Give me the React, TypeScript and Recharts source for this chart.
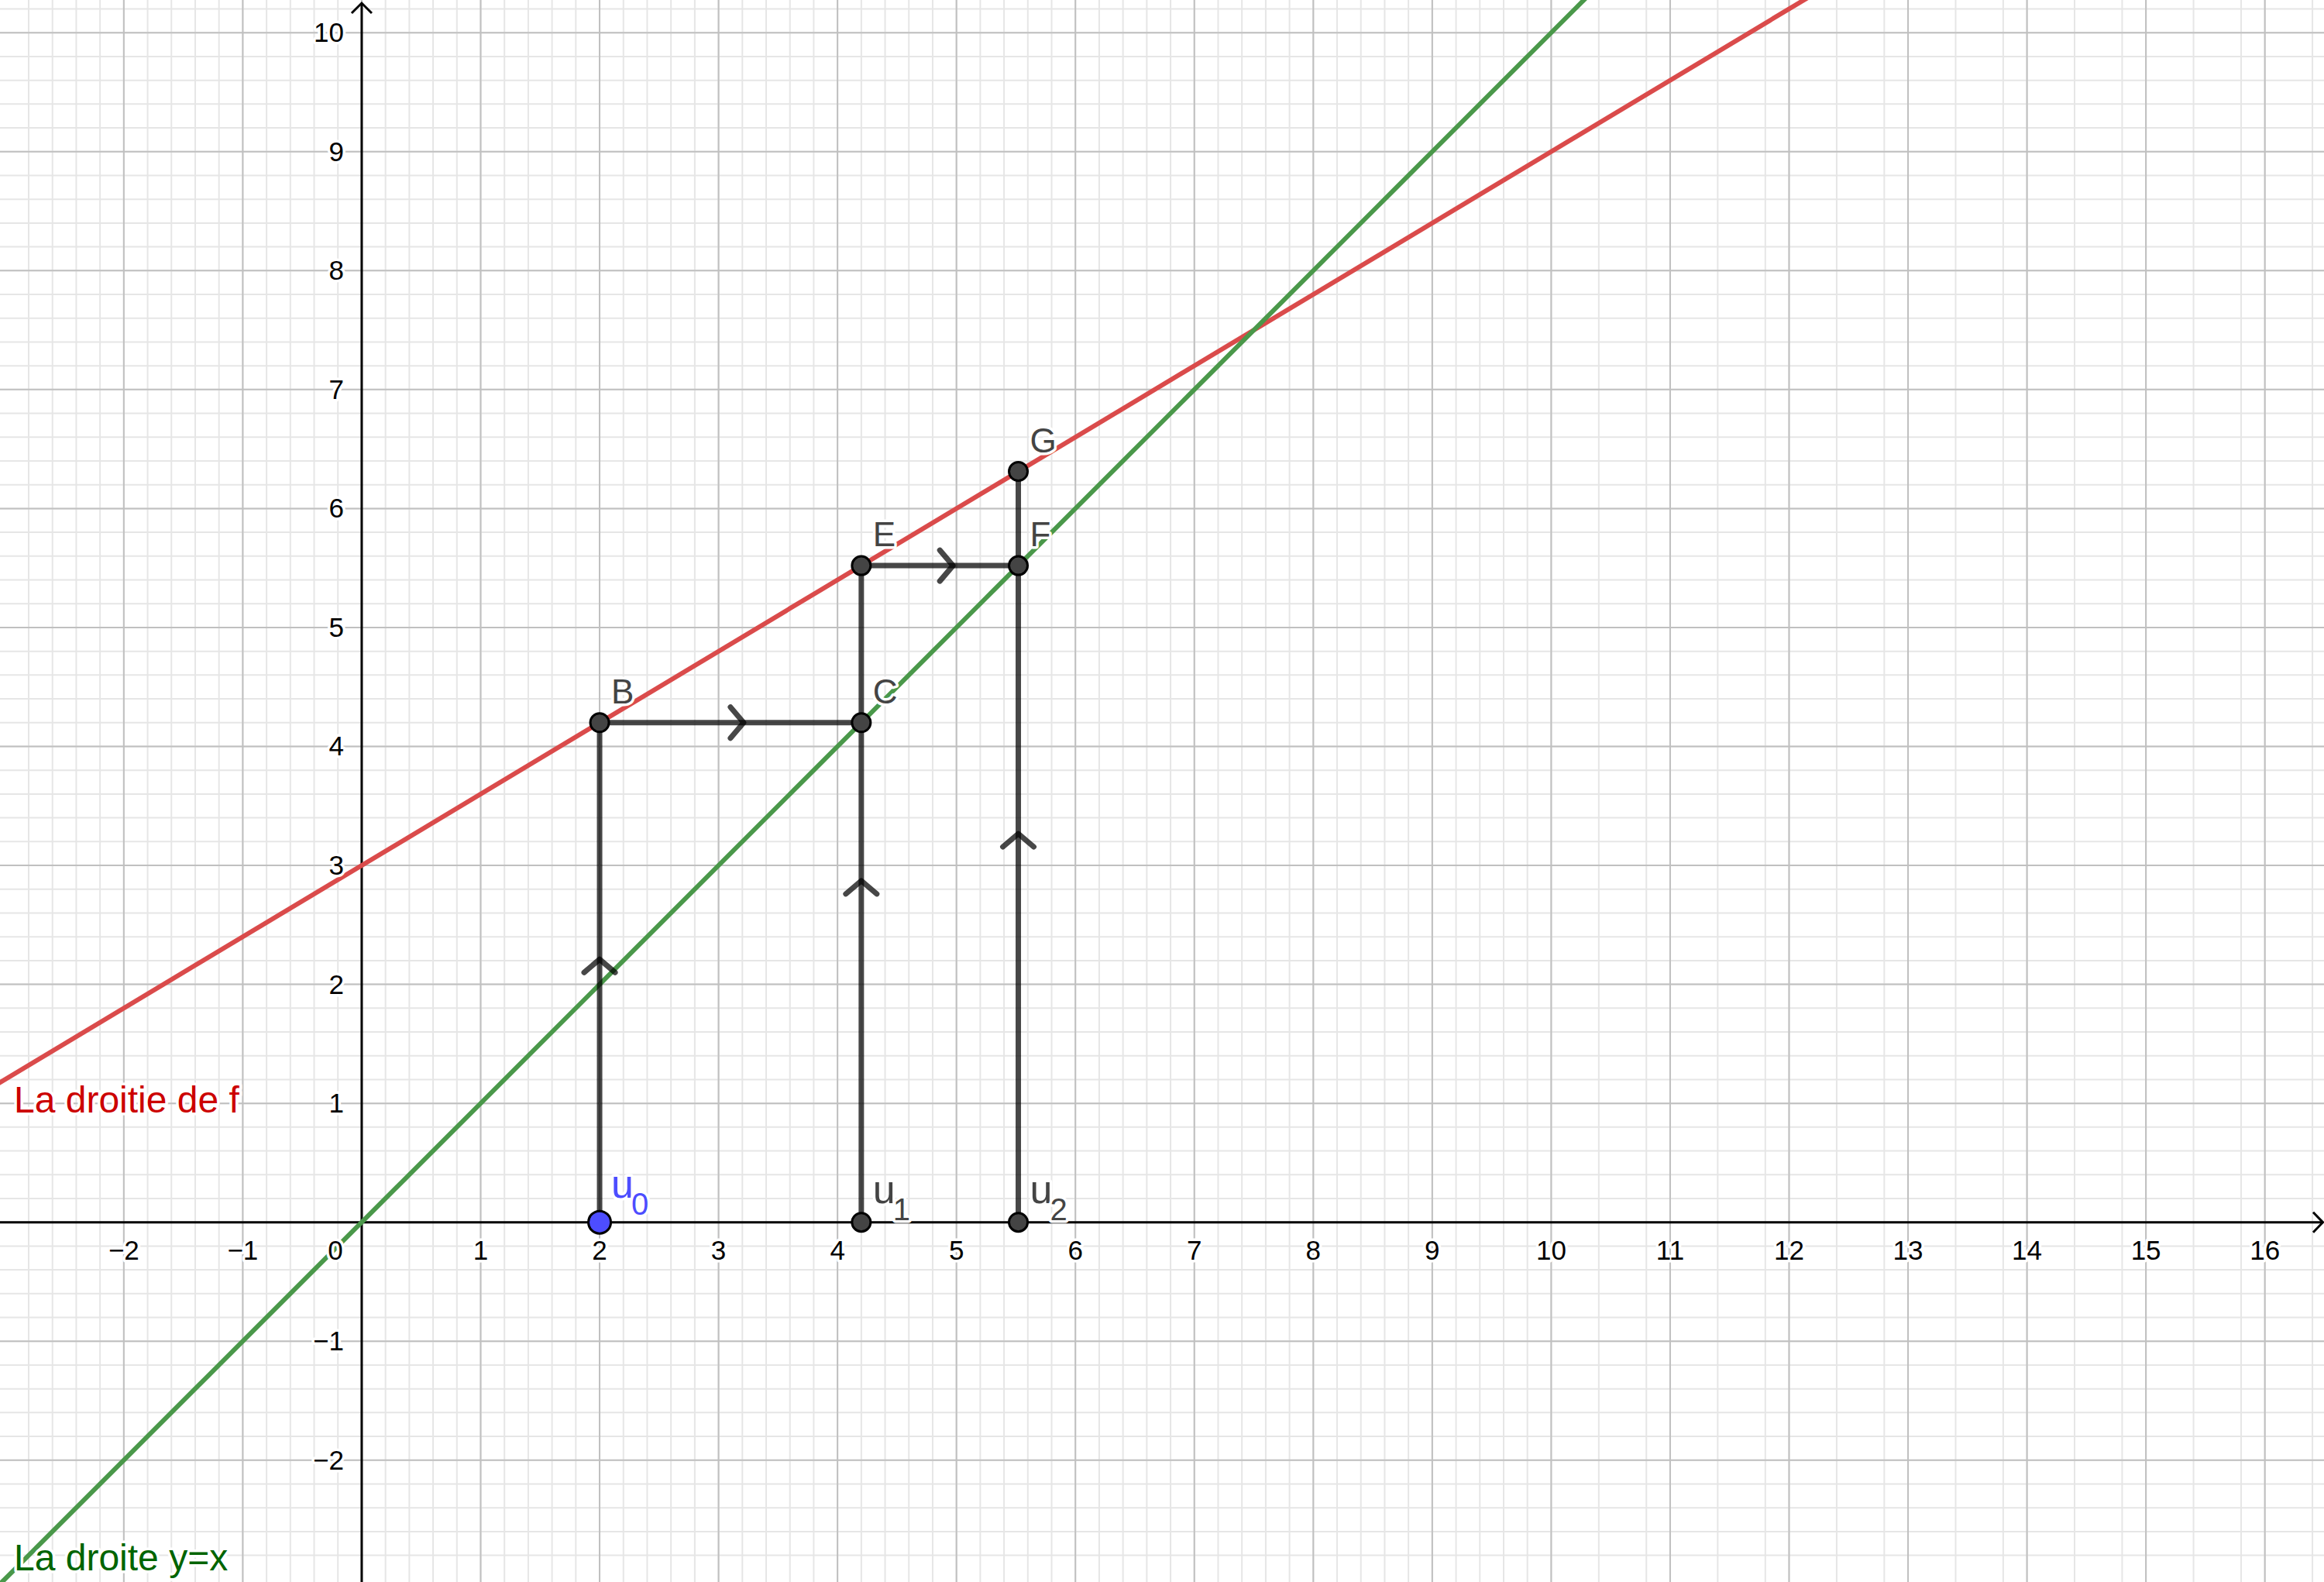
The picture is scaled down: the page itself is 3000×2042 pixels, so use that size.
import React from "react";
import {
  ComposedChart,
  XAxis,
  YAxis,
  CartesianGrid,
  ReferenceLine,
  Line,
  Scatter,
} from "recharts";

const W = 3000;
const H = 2042;
const FONT = "'Liberation Sans', Arial, sans-serif";

const X_DOMAIN: [number, number] = [-3.041, 16.497];
const Y_DOMAIN: [number, number] = [-3.024, 10.275];

// tick labels
const xTickValues = [-2, -1, 1, 2, 3, 4, 5, 6, 7, 8, 9, 10, 11, 12, 13, 14, 15, 16];
const yTickValues = [-2, -1, 1, 2, 3, 4, 5, 6, 7, 8, 9, 10];
const originLabel = [{ x: 0, y: 0 }];

// the two lines (endpoints beyond the window, clipped)
const lineF = [
  { x: -5, y: 0 },
  { x: 20, y: 15 },
];
const lineId = [
  { x: -5, y: -5 },
  { x: 20, y: 20 },
];

// cobweb segments
const segU0B = [
  { x: 2, y: 0 },
  { x: 2, y: 4.2 },
];
const segBC = [
  { x: 2, y: 4.2 },
  { x: 4.2, y: 4.2 },
];
const segU1E = [
  { x: 4.2, y: 0 },
  { x: 4.2, y: 5.52 },
];
const segEF = [
  { x: 4.2, y: 5.52 },
  { x: 5.52, y: 5.52 },
];
const segU2G = [
  { x: 5.52, y: 0 },
  { x: 5.52, y: 6.312 },
];

// arrow decorations at segment midpoints
const upArrows = [
  { x: 2, y: 2.1 },
  { x: 4.2, y: 2.76 },
  { x: 5.52, y: 3.156 },
];
const rightArrows = [
  { x: 3.1, y: 4.2 },
  { x: 4.86, y: 5.52 },
];

// points
const startPoint = [{ x: 2, y: 0, name: "u", sub: "0" }];
const axisPoints = [
  { x: 4.2, y: 0, name: "u", sub: "1" },
  { x: 5.52, y: 0, name: "u", sub: "2" },
];
const curvePoints = [
  { x: 2, y: 4.2, name: "B" },
  { x: 4.2, y: 4.2, name: "C" },
  { x: 4.2, y: 5.52, name: "E" },
  { x: 5.52, y: 5.52, name: "F" },
  { x: 5.52, y: 6.312, name: "G" },
];

// grid positions
const minorX: number[] = [];
for (let i = -15; i <= 82; i++) minorX.push(Math.round(i * 2) / 10);
const minorY: number[] = [];
for (let i = -15; i <= 51; i++) minorY.push(Math.round(i * 2) / 10);
const majorX: number[] = [];
for (let i = -3; i <= 16; i++) majorX.push(i);
const majorY: number[] = [];
for (let i = -3; i <= 10; i++) majorY.push(i);

const fmt = (v: number) => (v < 0 ? "\u2212" + Math.abs(v) : String(v));

const halo = {
  stroke: "#fff",
  strokeWidth: 7,
  strokeLinejoin: "round" as const,
  paintOrder: "stroke" as const,
};

const XTick = (p: any) => (
  <text x={p.cx} y={p.cy + 48} textAnchor="middle" fontSize={35} fontFamily={FONT} fill="#000" {...halo}>
    {fmt(p.payload.x)}
  </text>
);

const YTick = (p: any) => (
  <text x={p.cx - 23} y={p.cy + 12} textAnchor="end" fontSize={35} fontFamily={FONT} fill="#000" {...halo}>
    {fmt(p.payload.y)}
  </text>
);

const OriginTick = (p: any) => (
  <text x={p.cx - 34} y={p.cy + 48} textAnchor="middle" fontSize={35} fontFamily={FONT} fill="#000" {...halo}>
    0
  </text>
);

const SEG = { stroke: "#000", strokeOpacity: 0.72, strokeWidth: 7 };

const UpChevron = (p: any) => (
  <path
    d={`M${p.cx - 20},${p.cy} L${p.cx},${p.cy - 17} L${p.cx + 20},${p.cy}`}
    fill="none"
    {...SEG}
    strokeLinecap="round"
    strokeLinejoin="round"
  />
);

const RightChevron = (p: any) => (
  <path
    d={`M${p.cx},${p.cy - 20} L${p.cx + 17},${p.cy} L${p.cx},${p.cy + 20}`}
    fill="none"
    {...SEG}
    strokeLinecap="round"
    strokeLinejoin="round"
  />
);

const CurvePoint = (p: any) => (
  <g>
    <circle cx={p.cx} cy={p.cy} r={12} fill="#444" stroke="#000" strokeWidth={3} />
    <text x={p.cx + 15} y={p.cy - 25} fontSize={44} fontFamily={FONT} fill="#444" {...halo}>
      {p.payload.name}
    </text>
  </g>
);

const makeSeqPoint = (fill: string, textFill: string, r: number, dy: number, subDy: number) => (p: any) => (
  <g>
    <circle cx={p.cx} cy={p.cy} r={r} fill={fill} stroke="#000" strokeWidth={3} />
    <text x={p.cx + 15} y={p.cy + dy} fontSize={52} fontFamily={FONT} fill={textFill} {...halo}>
      {p.payload.name}
    </text>
    <text x={p.cx + 41} y={p.cy + subDy} fontSize={40} fontFamily={FONT} fill={textFill} {...halo}>
      {p.payload.sub}
    </text>
  </g>
);

const StartPoint = makeSeqPoint("#4D4DFF", "#4D4DFF", 14.5, -32, -10);
const AxisPoint = makeSeqPoint("#444", "#444", 12, -25, -3);

const HAxis = (p: any) => {
  const left = Math.min(p.x1, p.x2);
  const right = Math.max(p.x1, p.x2);
  const y = p.y1;
  return (
    <g>
      <line x1={left} y1={y} x2={right - 1} y2={y} stroke="#000" strokeWidth={3} />
      <path
        d={`M${right - 14},${y - 13} L${right - 1.5},${y} L${right - 14},${y + 13}`}
        fill="none"
        stroke="#000"
        strokeWidth={3}
      />
    </g>
  );
};

const VAxis = (p: any) => {
  const top = Math.min(p.y1, p.y2);
  const bottom = Math.max(p.y1, p.y2);
  const x = p.x1;
  return (
    <g>
      <line x1={x} y1={bottom} x2={x} y2={top + 4} stroke="#000" strokeWidth={3} />
      <path
        d={`M${x - 13},${top + 17} L${x},${top + 4} L${x + 13},${top + 17}`}
        fill="none"
        stroke="#000"
        strokeWidth={3}
      />
    </g>
  );
};

const App: React.FC = () => {
  return (
    <div style={{ position: "absolute", left: 0, top: 0, width: W, height: H, background: "#fff" }}>
      <ComposedChart width={W} height={H} margin={{ top: 0, right: 0, bottom: 0, left: 0 }}>
        <XAxis type="number" dataKey="x" domain={X_DOMAIN} allowDataOverflow hide />
        <YAxis type="number" dataKey="y" domain={Y_DOMAIN} allowDataOverflow hide />

        <CartesianGrid
          verticalValues={minorX}
          horizontalValues={minorY}
          stroke="#E6E6E6"
          strokeWidth={2}
        />
        <CartesianGrid
          verticalValues={majorX}
          horizontalValues={majorY}
          stroke="#C0C0C0"
          strokeWidth={2}
        />

        <ReferenceLine y={0} shape={HAxis} />
        <ReferenceLine x={0} shape={VAxis} />

        <Line data={lineF} dataKey="y" type="linear" stroke="#DA4B4B" strokeWidth={6} dot={false} isAnimationActive={false} />
        <Line data={lineId} dataKey="y" type="linear" stroke="#4A984A" strokeWidth={6} dot={false} isAnimationActive={false} />

        <Line data={segU0B} dataKey="y" {...SEG} dot={false} isAnimationActive={false} />
        <Line data={segBC} dataKey="y" {...SEG} dot={false} isAnimationActive={false} />
        <Line data={segU1E} dataKey="y" {...SEG} dot={false} isAnimationActive={false} />
        <Line data={segEF} dataKey="y" {...SEG} dot={false} isAnimationActive={false} />
        <Line data={segU2G} dataKey="y" {...SEG} dot={false} isAnimationActive={false} />

        <Scatter data={xTickValues.map((v) => ({ x: v, y: 0 }))} dataKey="y" shape={XTick} isAnimationActive={false} />
        <Scatter data={yTickValues.map((v) => ({ x: 0, y: v }))} dataKey="y" shape={YTick} isAnimationActive={false} />
        <Scatter data={originLabel} dataKey="y" shape={OriginTick} isAnimationActive={false} />

        <Scatter data={upArrows} dataKey="y" shape={UpChevron} isAnimationActive={false} />
        <Scatter data={rightArrows} dataKey="y" shape={RightChevron} isAnimationActive={false} />

        <Scatter data={curvePoints} dataKey="y" shape={CurvePoint} isAnimationActive={false} />
        <Scatter data={axisPoints} dataKey="y" shape={AxisPoint} isAnimationActive={false} />
        <Scatter data={startPoint} dataKey="y" shape={StartPoint} isAnimationActive={false} />
      </ComposedChart>

      <svg
        width={W}
        height={H}
        style={{ position: "absolute", left: 0, top: 0, pointerEvents: "none" }}
      >
        <text x={18} y={1436} fontSize={48} fontFamily={FONT} fill="#CC0000" {...halo}>
          La droitie de f
        </text>
        <text x={18} y={2027} fontSize={48} fontFamily={FONT} fill="#006400" {...halo}>
          La droite y=x
        </text>
      </svg>
    </div>
  );
};

export default App;
